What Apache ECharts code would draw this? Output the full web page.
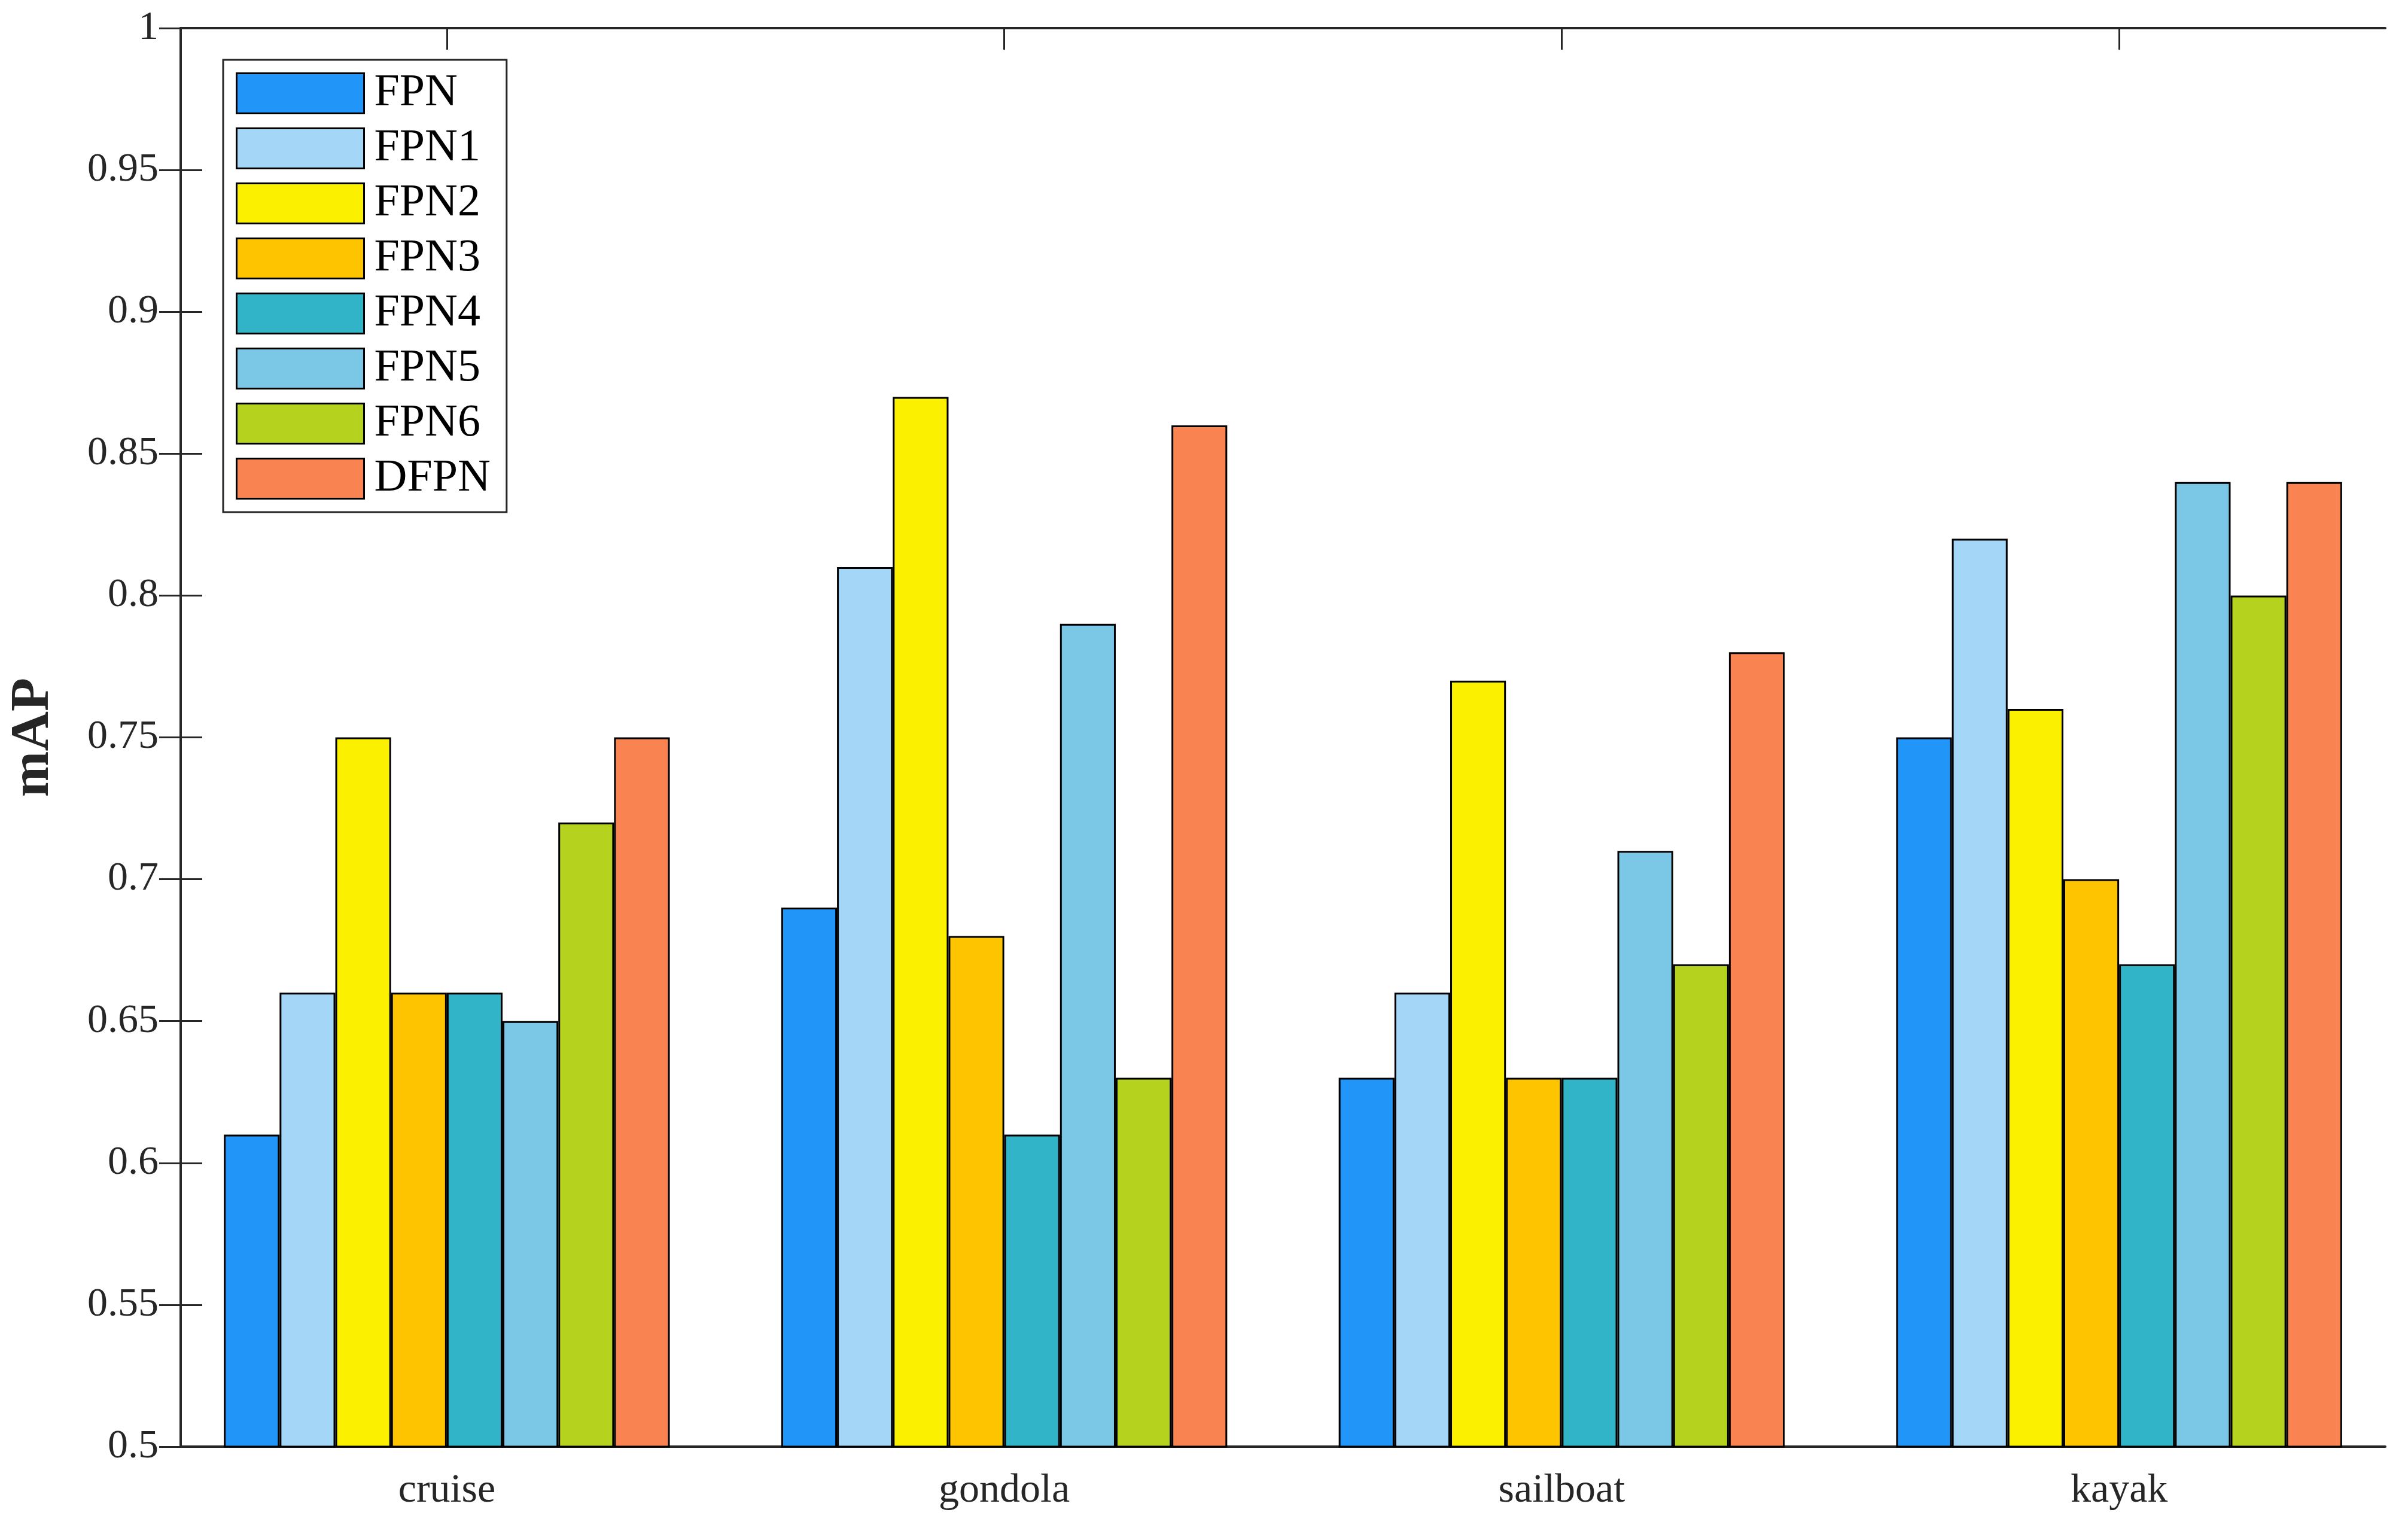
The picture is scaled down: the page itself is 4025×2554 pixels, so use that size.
<!DOCTYPE html>
<html><head><meta charset="utf-8">
<script src="https://cdn.jsdelivr.net/npm/echarts@6/dist/echarts.min.js"></script>
<style>html,body{margin:0;padding:0;background:#fff}#c{width:4025px;height:2554px}</style>
</head><body><div id="c"></div>
<script>
const categories = ['cruise', 'gondola', 'sailboat', 'kayak'];
const seriesNames = ['FPN', 'FPN1', 'FPN2', 'FPN3', 'FPN4', 'FPN5', 'FPN6', 'DFPN'];
const FPN  = [0.61, 0.69, 0.63, 0.75];
const FPN1 = [0.66, 0.81, 0.66, 0.82];
const FPN2 = [0.75, 0.87, 0.77, 0.76];
const FPN3 = [0.66, 0.68, 0.63, 0.70];
const FPN4 = [0.66, 0.61, 0.63, 0.67];
const FPN5 = [0.65, 0.79, 0.71, 0.84];
const FPN6 = [0.72, 0.63, 0.67, 0.80];
const DFPN = [0.75, 0.86, 0.78, 0.84];
const seriesValues = [FPN, FPN1, FPN2, FPN3, FPN4, FPN5, FPN6, DFPN];
const colors = ['#2196F8', '#A4D7F7', '#FAF000', '#FFC400', '#31B3C8', '#7BC8E6', '#B4D21E', '#FA8352'];
const yMin = 0.5, yMax = 1, yStep = 0.05;

const font = 'Liberation Serif';
const ink = '#262626';
const chart = echarts.init(document.getElementById('c'));

const series = seriesNames.map((n, i) => ({
  name: n, type: 'bar', data: seriesValues[i],
  xAxisIndex: 2, yAxisIndex: 2,
  barWidth: '10%', barGap: '0%',
  itemStyle: { color: colors[i], borderColor: '#000', borderWidth: 3 },
  z: 3
}));

const lineStyle = { color: ink, width: 4 };
const tickStyle = { color: ink, width: 3 };
chart.setOption({
  animation: false,
  backgroundColor: '#fff',
  textStyle: { fontFamily: font },
  grid: [
    { left: 302, right: 38, top: 47, bottom: 136, containLabel: false },
    { left: 281, right: 17, top: 47, bottom: 136, containLabel: false }
  ],
  legend: {
    orient: 'vertical', left: 373, top: 100,
    data: seriesNames,
    itemWidth: 213, itemHeight: 67, itemGap: 16,
    padding: [18, 27, 18, 21],
    borderColor: ink, borderWidth: 3, backgroundColor: '#fff',
    icon: 'rect',
    itemStyle: { borderColor: '#000', borderWidth: 3 },
    textStyle: { fontFamily: font, fontSize: 76, color: '#000', padding: [0, 0, 0, 12] }
  },
  xAxis: [{
    gridIndex: 0, type: 'value', min: 0, max: 1, position: 'bottom',
    axisLine: { show: true, onZero: false, lineStyle: lineStyle },
    axisTick: { show: false }, axisLabel: { show: false }, splitLine: { show: false }
  }, {
    gridIndex: 0, type: 'value', min: 0, max: 1, position: 'top',
    axisLine: { show: true, onZero: false, lineStyle: lineStyle },
    axisTick: { show: false }, axisLabel: { show: false }, splitLine: { show: false }
  }, {
    gridIndex: 1, type: 'category', data: categories, position: 'bottom',
    axisLine: { show: false },
    axisTick: { show: false },
    axisLabel: { fontFamily: font, fontSize: 68, color: ink, margin: 40 },
    splitLine: { show: false }
  }, {
    gridIndex: 1, type: 'category', data: categories, position: 'top',
    axisLine: { show: false },
    axisTick: { show: true, inside: true, alignWithLabel: true, length: 36, lineStyle: tickStyle },
    axisLabel: { show: false }, splitLine: { show: false }
  }],
  yAxis: [{
    gridIndex: 0, type: 'value', min: yMin, max: yMax, interval: yStep, position: 'left',
    name: 'mAP', nameLocation: 'middle', nameGap: 200,
    nameTextStyle: { fontFamily: font, fontSize: 92, fontWeight: 'bold', color: ink },
    axisLine: { show: true, lineStyle: lineStyle },
    axisTick: { show: true, inside: true, length: 36, lineStyle: tickStyle },
    axisLabel: { fontFamily: font, fontSize: 68, color: ink, margin: 37, formatter: v => String(+v.toFixed(2)) },
    splitLine: { show: false }
  }, {
    gridIndex: 0, type: 'value', min: yMin, max: yMax, interval: yStep, position: 'right',
    axisLine: { show: true, lineStyle: lineStyle },
    axisTick: { show: true, inside: true, length: 36, lineStyle: tickStyle },
    axisLabel: { show: false }, splitLine: { show: false }
  }, {
    gridIndex: 1, type: 'value', min: yMin, max: yMax, interval: yStep,
    axisLine: { show: false }, axisTick: { show: false }, axisLabel: { show: false }, splitLine: { show: false }
  }],
  series: series
});
</script></body></html>
